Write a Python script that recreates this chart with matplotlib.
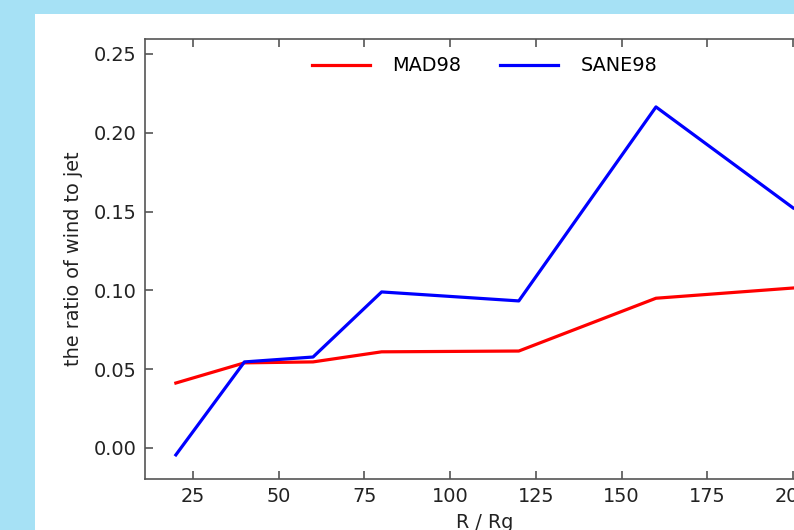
import matplotlib
matplotlib.use("Agg")
import matplotlib.pyplot as plt
from matplotlib.patches import Rectangle

radius = [20, 40, 60, 80, 120, 160, 200]
mad98 = [0.0412, 0.0540, 0.0546, 0.0610, 0.0615, 0.0950, 0.1015]
sane98 = [-0.0044, 0.0546, 0.0577, 0.0990, 0.0933, 0.2164, 0.1523]
series_labels = ["MAD98", "SANE98"]
xticks = [25, 50, 75, 100, 125, 150, 175, 200]
yticks = [0.00, 0.05, 0.10, 0.15, 0.20, 0.25]

fig = plt.figure(figsize=(7.94, 5.30), dpi=100)
fig.patch.set_facecolor("#a6e1f5")
fig.patches.append(Rectangle((35/794, 0), 1.0, (530-14)/530, transform=fig.transFigure,
                             facecolor="white", edgecolor="none", zorder=-1))

ax = fig.add_axes([145/794, 51/530, 679/794, 440/530])
ax.plot(radius, mad98, color="red", lw=2.3, label=series_labels[0])
ax.plot(radius, sane98, color="blue", lw=2.3, label=series_labels[1])

ax.set_xlim(11, 209)
ax.set_ylim(-0.0197, 0.2595)
ax.set_xticks(xticks)
ax.set_yticks(yticks)
ax.set_yticklabels([f"{v:.2f}" for v in yticks])

fs = 13.9
ax.tick_params(direction="in", top=True, right=True, length=6, width=1.2,
               color="#555555", labelsize=fs, labelcolor="#222222", pad=6)
for s in ax.spines.values():
    s.set_color("#555555")
    s.set_linewidth(1.2)

ax.set_xlabel("R / Rg", fontsize=fs, color="#222222", labelpad=5)
ax.set_ylabel("the ratio of wind to jet", fontsize=fs, color="#222222", labelpad=8)

ax.legend(loc="upper center", ncol=2, frameon=False, fontsize=fs,
          handlelength=3, handletextpad=1.15, columnspacing=2.05, borderaxespad=0.5)

fig.savefig("out.png", dpi=100, facecolor=fig.get_facecolor())
